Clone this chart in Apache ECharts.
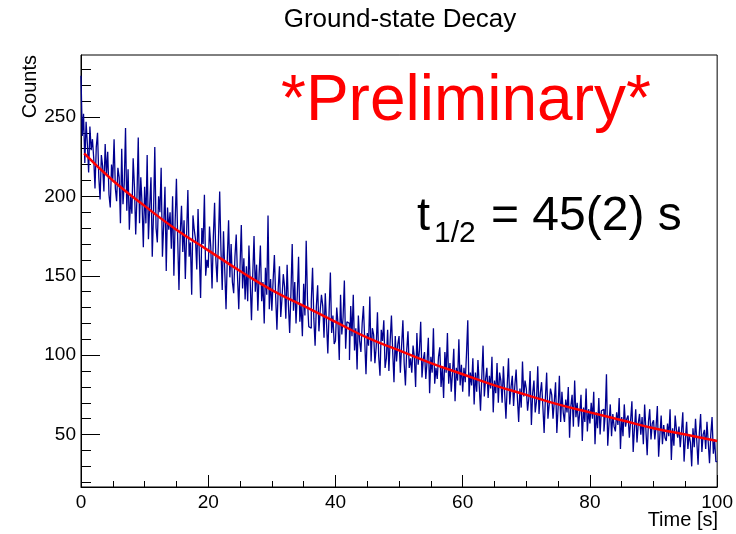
<!DOCTYPE html>
<html>
<head>
<meta charset="utf-8">
<script src="https://cdn.jsdelivr.net/npm/echarts@6/dist/echarts.min.js"></script>
<style>
  html, body { margin: 0; padding: 0; background: #fff; }
  #chart { width: 736px; height: 534px; }
</style>
</head>
<body>
<div id="chart"></div>
<script>
// histogram: 500 bins of 0.2 s from 0 to 100 s
const binWidth = 0.2
const counts = [
  276, 238, 252, 221, 247, 233, 215, 244, 229, 236,
  224, 205, 231, 240, 212, 198, 226, 219, 203, 233,
  214, 228, 201, 193, 220, 211, 236, 205, 197, 218,
  212, 183, 230, 195, 208, 243, 191, 217, 179, 200,
  189, 224, 206, 176, 200, 237, 183, 212, 195, 168,
  206, 183, 226, 173, 194, 212, 162, 189, 231, 180,
  171, 200, 190, 218, 162, 182, 206, 153, 193, 179,
  190, 167, 200, 150, 184, 211, 173, 141, 177, 194,
  165, 185, 148, 176, 204, 162, 171, 138, 188, 179,
  173, 154, 192, 163, 136, 180, 170, 201, 150, 160,
  155, 181, 168, 142, 174, 196, 160, 146, 171, 203,
  166, 141, 178, 153, 129, 161, 185, 149, 170, 146,
  139, 162, 176, 150, 129, 156, 182, 142, 161, 135,
  156, 134, 169, 146, 122, 151, 175, 140, 157, 128,
  151, 169, 134, 146, 120, 155, 138, 188, 129, 148,
  128, 147, 163, 137, 116, 142, 156, 124, 136, 151,
  143, 123, 157, 132, 114, 139, 170, 128, 146, 120,
  138, 162, 121, 132, 112, 145, 125, 172, 135, 118,
  117, 134, 155, 123, 106, 131, 144, 115, 128, 138,
  131, 111, 139, 120, 101, 127, 152, 114, 125, 107,
  109, 130, 120, 97, 138, 113, 124, 147, 104, 121,
  120, 97, 131, 112, 138, 103, 117, 91, 125, 109,
  102, 120, 131, 109, 88, 114, 106, 137, 96, 117,
  113, 95, 105, 127, 99, 87, 116, 109, 122, 92,
  98, 116, 90, 109, 125, 102, 83, 112, 96, 107,
  112, 89, 106, 122, 95, 81, 103, 115, 92, 98,
  89, 106, 99, 80, 114, 94, 103, 121, 86, 97,
  102, 85, 96, 111, 76, 99, 89, 117, 82, 92,
  85, 99, 105, 80, 93, 73, 102, 89, 114, 82,
  95, 77, 89, 104, 71, 92, 84, 110, 81, 94,
  77, 92, 83, 101, 122, 74, 89, 81, 98, 69,
  89, 77, 97, 81, 65, 86, 106, 74, 85, 92,
  73, 87, 79, 99, 64, 84, 76, 95, 70, 89,
  84, 70, 93, 76, 60, 81, 98, 69, 80, 87,
  68, 81, 91, 73, 58, 79, 67, 96, 74, 84,
  79, 65, 73, 90, 56, 76, 84, 64, 71, 93,
  63, 76, 83, 68, 51, 73, 89, 60, 69, 79,
  75, 60, 71, 83, 51, 67, 87, 58, 77, 64,
  58, 72, 64, 80, 48, 68, 75, 55, 84, 61,
  70, 55, 64, 75, 46, 67, 58, 79, 52, 66,
  57, 70, 60, 77, 44, 64, 54, 73, 50, 65,
  66, 52, 62, 88, 43, 57, 69, 49, 63, 55,
  52, 64, 56, 73, 41, 61, 49, 69, 55, 60,
  62, 48, 59, 71, 39, 54, 66, 45, 57, 63,
  50, 61, 44, 69, 53, 37, 58, 66, 47, 57,
  59, 47, 55, 68, 36, 50, 62, 44, 56, 48,
  46, 57, 49, 66, 34, 54, 43, 62, 53, 48,
  55, 42, 52, 64, 33, 47, 58, 41, 50, 45,
  30, 54, 42, 60, 46, 31, 51, 63, 39, 50,
  53, 41, 58, 45, 32, 50, 61, 38, 47, 33
]

// fit curve
const fitTime = [0.5, 5, 10, 15, 20, 25, 30, 35, 40, 45, 50, 55, 60, 65, 70, 75, 80, 85, 90, 95, 100]
const fitCounts = [227, 210, 194, 179, 166, 153, 141, 131, 121, 111, 103, 95, 88, 81, 75, 69, 64, 59, 54, 50, 46]

const yMajor = [50, 100, 150, 200, 250]
const yMinor = [20, 30, 40, 60, 70, 80, 90, 110, 120, 130, 140, 160, 170, 180, 190, 210, 220, 230, 240, 260, 270, 280]

const font = 'Liberation Sans, Arial, Helvetica, sans-serif'

let histData = counts.map((c, i) => [i * binWidth, c])
histData.push([counts.length * binWidth, counts[counts.length - 1]])
let fitData = fitTime.map((t, i) => [t, fitCounts[i]])

const options = {
    animation: false,
    grid: {
        left: 81, right: 18, top: 55, bottom: 47,
        show: true, borderColor: '#000', borderWidth: 1
    },
    xAxis: {
        type: 'value',
        min: 0, max: 100, interval: 20,
        axisLine: { lineStyle: { color: '#000', width: 1 } },
        axisTick: { inside: true, length: 12, lineStyle: { color: '#000' } },
        minorTick: { show: true, splitNumber: 4, length: 6, lineStyle: { color: '#000' } },
        axisLabel: { color: '#000', fontSize: 19, fontFamily: font, margin: 6 },
        splitLine: { show: false }
    },
    yAxis: [
        {
            type: 'value',
            min: 17, max: 289,
            axisLine: { lineStyle: { color: '#000', width: 1 } },
            axisTick: { inside: true, length: 19, customValues: yMajor, lineStyle: { color: '#000' } },
            axisLabel: { color: '#000', fontSize: 19, fontFamily: font, margin: 5, customValues: yMajor },
            splitLine: { show: false }
        },
        {
            type: 'value',
            position: 'left',
            min: 17, max: 289,
            axisLine: { show: false },
            axisTick: { inside: true, length: 10, customValues: yMinor, lineStyle: { color: '#000' } },
            axisLabel: { show: false },
            splitLine: { show: false }
        }
    ],
    series: [
        {
            name: 'data',
            type: 'line',
            step: 'end',
            data: histData,
            showSymbol: false,
            lineStyle: { color: '#00008f', width: 1.3 },
            z: 2
        },
        {
            name: 'fit',
            type: 'line',
            smooth: true,
            data: fitData,
            showSymbol: false,
            lineStyle: { color: '#ff0000', width: 2.5 },
            z: 3
        }
    ],
    graphic: [
        { type: 'text', x: 400, y: 20, style: { text: 'Ground-state Decay', fontSize: 26, fontFamily: font, fill: '#000', align: 'center', verticalAlign: 'middle' } },
        { type: 'text', x: 30, y: 55, rotation: Math.PI / 2, style: { text: 'Counts', fontSize: 20, fontFamily: font, fill: '#000', align: 'right', verticalAlign: 'middle' } },
        { type: 'text', x: 718, y: 520, style: { text: 'Time [s]', fontSize: 20, fontFamily: font, fill: '#000', align: 'right', verticalAlign: 'middle' } },
        { type: 'text', x: 281, y: 102, style: { text: '*Preliminary*', fontSize: 64, fontFamily: font, fill: '#ff0000', align: 'left', verticalAlign: 'middle' } },
        { type: 'text', x: 417, y: 217, style: { text: 't', fontSize: 47, fontFamily: font, fill: '#000', align: 'left', verticalAlign: 'middle' } },
        { type: 'text', x: 434, y: 234, style: { text: '1/2', fontSize: 30, fontFamily: font, fill: '#000', align: 'left', verticalAlign: 'middle' } },
        { type: 'text', x: 491, y: 217, style: { text: '= 45(2) s', fontSize: 48, fontFamily: font, fill: '#000', align: 'left', verticalAlign: 'middle' } }
    ]
};

let chart = echarts.init(document.getElementById('chart'))
chart.setOption(options)
</script>
</body>
</html>
